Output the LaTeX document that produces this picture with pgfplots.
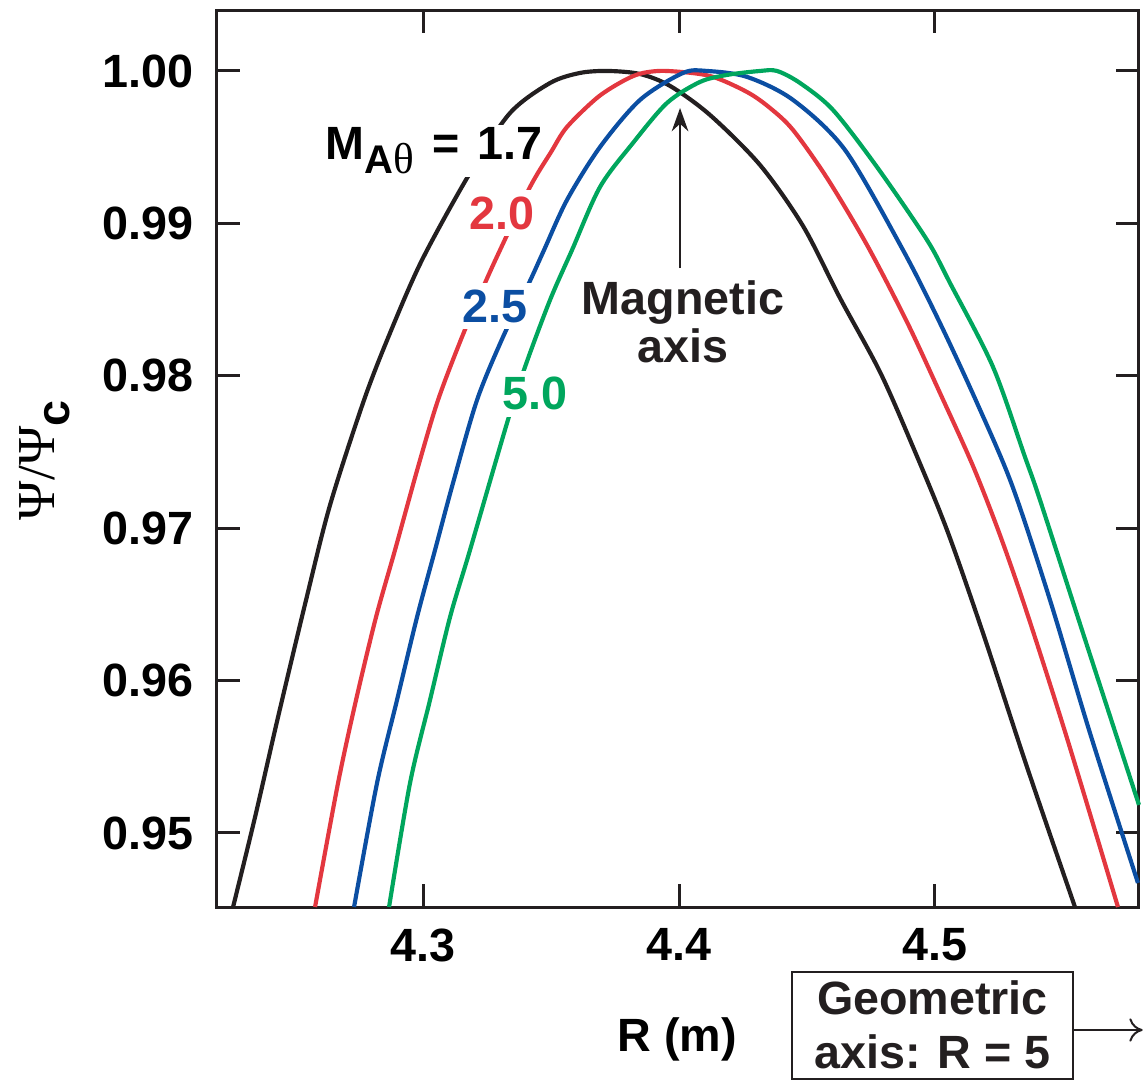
\documentclass[border=0pt]{standalone}
\usepackage{fontspec}
\setmainfont{Liberation Sans}
\newfontfamily\greekfont{Liberation Serif}
\usepackage{pgfplots}
\pgfplotsset{compat=1.18}
\usetikzlibrary{arrows.meta}

\definecolor{cblack}{HTML}{231F20}
\definecolor{cred}{HTML}{E3373F}
\definecolor{cblue}{HTML}{0B4EA2}
\definecolor{cgreen}{HTML}{00A65D}

\begin{document}
\begin{tikzpicture}[font=\fontsize{14}{16}\selectfont\bfseries]
\begin{axis}[
    scale only axis,
    width=276.6pt, height=269.1pt,
    xmin=4.2195, xmax=4.5797,
    ymin=0.94514, ymax=1.0040,
    clip=false,
    xtick={4.3,4.4,4.5},
    ytick={0.95,0.96,0.97,0.98,0.99,1.00},
    tick align=inside,
    major tick length=7pt,
    axis line style={line width=0.9pt, color=cblack},
    tick style={line width=0.9pt, color=cblack},
    /pgf/number format/assume math mode=true,
    xticklabel style={font=\fontsize{14}{16}\selectfont\bfseries,
        /pgf/number format/fixed, /pgf/number format/precision=1, yshift=-3pt},
    yticklabel style={font=\fontsize{14}{16}\selectfont\bfseries,
        /pgf/number format/fixed, /pgf/number format/fixed zerofill,
        /pgf/number format/precision=2, xshift=-3.5pt},
    xlabel={R (m)},
    xlabel style={at={(rel axis cs:0.499,-0.148)}, anchor=center},
    ylabel={{\greekfont\mdseries\fontsize{16}{18}\selectfont Ψ/Ψ}\raisebox{-0.6ex}{c}},
    ylabel style={at={(rel axis cs:-0.1866,0.498)}, anchor=center, rotate=0},
    every axis plot/.append style={line width=1.25pt, smooth, tension=0.5},
]
\coordinate (O) at (rel axis cs:0,0);

% M = 1.7
\addplot[cblack] coordinates {
(4.22578,0.94514) (4.23438,0.95105) (4.24336,0.95761) (4.25430,0.96529)
(4.26367,0.97152) (4.27695,0.97841) (4.28711,0.98281) (4.29961,0.98760)
(4.31836,0.99331) (4.33398,0.99724) (4.34961,0.99921) (4.36133,0.99987)
(4.37227,1.00000) (4.38477,0.99980) (4.39648,0.99902) (4.41211,0.99711)
(4.43164,0.99383) (4.44844,0.98983) (4.46289,0.98510) (4.47852,0.98025)
(4.49141,0.97533) (4.50469,0.96988) (4.51875,0.96312) (4.53594,0.95433)
(4.55469,0.94514)
};
\node[fill=white, inner sep=1pt, anchor=base west] at (axis cs:4.2605,0.99416)
    {M\raisebox{-0.55ex}{\fontsize{12}{14}\selectfont A{\greekfont\mdseries\fontsize{13}{14}\selectfont θ}}\hspace{1.5pt} = \hspace{1.5pt}1.7};

% M = 2.0
\addplot[cred] coordinates {
(4.25781,0.94514) (4.26680,0.95328) (4.27383,0.95873) (4.28164,0.96417)
(4.28906,0.96857) (4.29805,0.97402) (4.30586,0.97841) (4.31523,0.98255)
(4.32422,0.98609) (4.33008,0.98825) (4.34180,0.99239) (4.35000,0.99468)
(4.35625,0.99633) (4.36836,0.99829) (4.37891,0.99941) (4.38594,0.99987)
(4.39531,1.00000) (4.41211,0.99967) (4.42656,0.99862) (4.43555,0.99757)
(4.44453,0.99613) (4.45781,0.99298) (4.47344,0.98858) (4.48906,0.98353)
(4.50195,0.97887) (4.51484,0.97408) (4.52539,0.96955) (4.53594,0.96444)
(4.55156,0.95623) (4.57148,0.94514)
};
\node[fill=white, inner sep=2pt, text=cred] at (axis cs:4.3309,0.99068) {2.0};

% M = 2.5
\addplot[cblue] coordinates {
(4.27305,0.94514) (4.28203,0.95328) (4.28984,0.95873) (4.29766,0.96417)
(4.30469,0.96857) (4.31172,0.97297) (4.32109,0.97841) (4.33125,0.98255)
(4.34141,0.98609) (4.34727,0.98825) (4.35625,0.99154) (4.36914,0.99501)
(4.38477,0.99810) (4.40156,0.99987) (4.41094,1.00000) (4.42656,0.99961)
(4.44453,0.99810) (4.46484,0.99482) (4.48750,0.98825) (4.50195,0.98346)
(4.51641,0.97822) (4.53008,0.97283) (4.54492,0.96529) (4.56055,0.95656)
(4.57930,0.94672)
};
\node[fill=white, inner sep=2pt, text=cblue] at (axis cs:4.3281,0.98458) {2.5};

% M = 5.0
\addplot[cgreen] coordinates {
(4.28672,0.94514) (4.29492,0.95328) (4.30273,0.95873) (4.31055,0.96417)
(4.31836,0.96857) (4.33281,0.97690) (4.33984,0.98058) (4.34961,0.98497)
(4.35820,0.98825) (4.36914,0.99239) (4.38203,0.99528) (4.39531,0.99790)
(4.40820,0.99928) (4.41875,0.99974) (4.43164,1.00000) (4.43828,1.00000)
(4.44727,0.99921) (4.46016,0.99744) (4.47734,0.99370) (4.49688,0.98891)
(4.50586,0.98609) (4.52266,0.98058) (4.53516,0.97467) (4.54102,0.97185)
(4.55781,0.96312) (4.57969,0.95184)
};
\node[fill=white, inner sep=2pt, text=cgreen] at (axis cs:4.3438,0.97881) {5.0};

% magnetic axis
\draw[-{Stealth[length=7pt,width=5pt]}, line width=0.6pt, cblack]
    (axis cs:4.4004,0.98707) -- (axis cs:4.4004,0.99757);
\node[align=center, text=cblack, font=\fontsize{14}{14.4}\selectfont\bfseries]
    at (axis cs:4.4016,0.98353) {Magnetic\\axis};

% geometric axis box
\draw[line width=0.6pt, cblack] (rel axis cs:0.6236,-0.0725) rectangle (rel axis cs:0.9284,-0.1918);
\node[align=center, text=cblack, font=\fontsize{14}{16}\selectfont\bfseries]
    at (rel axis cs:0.7760,-0.1315) {Geometric\\axis: R = 5};
\draw[-{To[length=4pt,width=7pt]}, line width=0.6pt, cblack]
    (rel axis cs:0.9284,-0.1371) -- (rel axis cs:1.0040,-0.1371);
\end{axis}
\pgfresetboundingbox
\path ([shift={(-65.1pt,-52.2pt)}]O) rectangle ([shift={(277.8pt,272.1pt)}]O);
\end{tikzpicture}
\end{document}
